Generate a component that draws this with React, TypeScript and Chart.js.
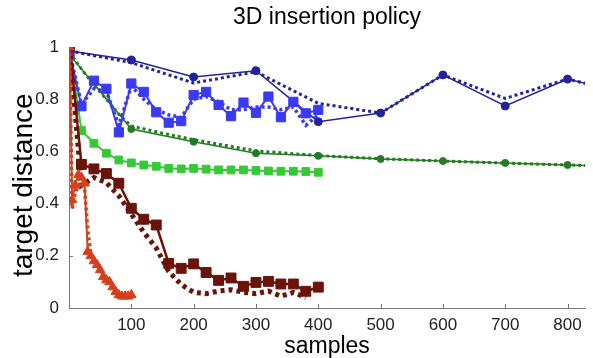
import { useEffect, useRef } from "react";
import { Chart, registerables } from "chart.js";

Chart.register(...registerables);

// Sample counts for each run family
const coarseSamples = [1, 100, 200, 300, 400, 500, 600, 700, 800, 900];
const fitSamples = [1, 20, 40, 60, 80, 100, 150, 200, 300, 400, 500, 600, 700, 800, 900];
const fineSamples = [1, 20, 40, 60, 80, 100, 120, 140, 160, 180, 200, 220, 240, 260, 280, 300, 320, 340, 360, 380, 400];
const maroonFitSamples = [1, 20, 40, 60, 80, 100, 120, 140, 160, 180, 200, 220, 240, 260, 280, 300, 320, 340, 360, 380];
const triangleSamples = [1, 5, 10, 15, 20, 25, 30, 35, 40, 45, 50, 55, 60, 65, 70, 75, 80, 85, 90, 95, 100];

// Target distance per policy
const navySolid = [0.985, 0.95, 0.885, 0.909, 0.714, 0.747, 0.893, 0.774, 0.877, 0.82];
const navyDotted = [0.985, 0.94, 0.862, 0.905, 0.784, 0.747, 0.893, 0.803, 0.877, 0.82];
const greenSolid = [0.97, 0.686, 0.637, 0.593, 0.583, 0.571, 0.563, 0.556, 0.548, 0.54];
const greenDotted = [0.98, 0.915, 0.855, 0.8, 0.742, 0.697, 0.67, 0.645, 0.602, 0.584, 0.572, 0.563, 0.555, 0.548, 0.54];
const brightGreen = [0.99, 0.68, 0.631, 0.593, 0.567, 0.556, 0.548, 0.543, 0.535, 0.533, 0.535, 0.532, 0.529, 0.529, 0.529, 0.527, 0.525, 0.524, 0.524, 0.523, 0.52];
const blueSolid = [0.98, 0.773, 0.871, 0.84, 0.673, 0.86, 0.828, 0.75, 0.71, 0.716, 0.816, 0.828, 0.778, 0.735, 0.787, 0.748, 0.81, 0.731, 0.79, 0.746, 0.759];
const blueDotted = [0.98, 0.78, 0.84, 0.83, 0.7, 0.85, 0.8, 0.76, 0.74, 0.73, 0.8, 0.81, 0.79, 0.76, 0.76, 0.77, 0.77, 0.76, 0.77, 0.7, 0.74];
const maroonSolid = [1.0, 0.55, 0.533, 0.515, 0.478, 0.382, 0.34, 0.318, 0.171, 0.152, 0.169, 0.136, 0.106, 0.115, 0.083, 0.098, 0.102, 0.092, 0.092, 0.064, 0.08];
const maroonDotted = [1.0, 0.47, 0.5, 0.48, 0.43, 0.36, 0.29, 0.23, 0.14, 0.09, 0.06, 0.055, 0.065, 0.07, 0.06, 0.055, 0.065, 0.045, 0.06, 0.04];
const orangeSolid = [1.0, 0.414, 0.47, 0.51, 0.5, 0.478, 0.216, 0.2, 0.18, 0.165, 0.146, 0.12, 0.107, 0.1, 0.08, 0.062, 0.05, 0.045, 0.045, 0.045, 0.05];
const orangeDotted = [1.0, 0.38, 0.44, 0.47, 0.48, 0.46, 0.3, 0.21, 0.19, 0.17, 0.15, 0.125, 0.11, 0.09, 0.075, 0.06, 0.05, 0.045, 0.045, 0.048, 0.05];

// Axis ticks
const xTicks = [100, 200, 300, 400, 500, 600, 700, 800];
const yTicks = [0, 0.2, 0.4, 0.6, 0.8, 1];

const FONT = "'Liberation Sans', Arial, Helvetica, sans-serif";

const NAVY = "#22229a";
const BLUE = "#3a3af2";
const GREEN = "#237b23";
const LIME = "#36c936";
const MAROON = "#6a1309";
const ORANGE = "#d4401c";

const pts = (xs: number[], ys: number[]) => xs.map((x, i) => ({ x, y: ys[i] }));

function solidLine(xs: number[], ys: number[], color: string, width: number, marker: string | false, radius: number, order: number) {
  return {
    data: pts(xs, ys),
    borderColor: color,
    backgroundColor: color,
    borderWidth: width,
    pointStyle: marker || "circle",
    pointRadius: marker ? radius : 0,
    pointBorderWidth: 1,
    pointBorderColor: color,
    pointBackgroundColor: color,
    tension: 0,
    fill: false,
    order,
  };
}

function dottedLine(xs: number[], ys: number[], color: string, width: number, dash: number[], order: number) {
  return {
    data: pts(xs, ys),
    borderColor: color,
    backgroundColor: color,
    borderWidth: width,
    borderDash: dash,
    borderCapStyle: "butt",
    pointRadius: 0,
    tension: 0,
    fill: false,
    order,
  };
}

// Small tick marks that point into the plot area
const innerTicks = {
  id: "innerTicks",
  beforeDatasetsDraw(chart: any) {
    const { ctx, chartArea, scales } = chart;
    const x = scales.x;
    const y = scales.y;
    ctx.save();
    ctx.strokeStyle = "#777";
    ctx.lineWidth = 1;
    ctx.beginPath();
    xTicks.forEach((v) => {
      const px = Math.round(x.getPixelForValue(v)) + 0.5;
      ctx.moveTo(px, chartArea.bottom);
      ctx.lineTo(px, chartArea.bottom - 4);
    });
    yTicks.slice(1, -1).forEach((v) => {
      const py = Math.round(y.getPixelForValue(v)) + 0.5;
      ctx.moveTo(chartArea.left, py);
      ctx.lineTo(chartArea.left + 4, py);
    });
    ctx.stroke();
    ctx.restore();
  },
};

export default function App() {
  const canvasRef = useRef<HTMLCanvasElement | null>(null);

  useEffect(() => {
    const canvas = canvasRef.current;
    if (!canvas) return;
    const chart = new Chart(canvas, {
      type: "line",
      data: {
        datasets: [
          solidLine(triangleSamples, orangeSolid, ORANGE, 2, "triangle", 5.5, 0),
          dottedLine(triangleSamples, orangeDotted, ORANGE, 3.5, [3, 3], 1),
          solidLine(fineSamples, maroonSolid, MAROON, 2.5, "rect", 7, 2),
          dottedLine(maroonFitSamples, maroonDotted, MAROON, 5, [4, 4], 3),
          solidLine(fineSamples, blueSolid, BLUE, 2, "rect", 6.5, 4),
          dottedLine(fineSamples, blueDotted, BLUE, 3.5, [3, 3], 5),
          solidLine(coarseSamples, navySolid, NAVY, 1.5, "circle", 4, 6),
          dottedLine(coarseSamples, navyDotted, NAVY, 3, [3, 3], 7),
          solidLine(fineSamples, brightGreen, LIME, 2, "rect", 5.5, 8),
          solidLine(coarseSamples, greenSolid, GREEN, 1.5, "circle", 3.5, 9),
          dottedLine(fitSamples, greenDotted, GREEN, 3, [3, 3], 10),
        ] as any,
      },
      options: {
        responsive: false,
        animation: false,
        layout: { padding: 0 },
        plugins: {
          legend: { display: false },
          tooltip: { enabled: false },
          title: {
            display: true,
            text: "3D insertion policy",
            fullSize: false,
            color: "#000",
            font: { family: FONT, size: 23, weight: "normal", lineHeight: 1.2 },
            padding: { top: 3.5, bottom: 15.9 },
          },
        },
        scales: {
          x: {
            type: "linear",
            min: 0,
            max: 828,
            afterBuildTicks: (s: any) => {
              s.ticks = xTicks.map((value) => ({ value }));
            },
            afterFit: (s: any) => {
              s.height = 50;
            },
            grid: { display: false, drawTicks: false },
            border: { display: true, color: "#7a7a7a", width: 1 },
            ticks: {
              color: "#222",
              font: { family: FONT, size: 17 },
              padding: 7,
              maxRotation: 0,
              autoSkip: false,
            },
            title: {
              display: true,
              text: "samples",
              color: "#000",
              font: { family: FONT, size: 23, lineHeight: 1 },
              padding: { top: 0, bottom: 0 },
            },
          },
          y: {
            type: "linear",
            min: 0,
            max: 1,
            afterBuildTicks: (s: any) => {
              s.ticks = yTicks.map((value) => ({ value }));
            },
            afterFit: (s: any) => {
              s.width = 69;
            },
            grid: { display: false, drawTicks: false },
            border: { display: true, color: "#7a7a7a", width: 1 },
            ticks: {
              color: "#222",
              font: { family: FONT, size: 17 },
              padding: 10,
              callback: (v: any) => String(+Number(v).toFixed(2)),
            },
            title: {
              display: true,
              // two trailing no-break spaces nudge the centred label a little lower
              text: "target distance\u00a0\u00a0",
              color: "#000",
              font: { family: FONT, size: 28, lineHeight: 1 },
              padding: { top: 10, bottom: 0 },
            },
          },
        },
      } as any,
      plugins: [innerTicks],
    });
    return () => chart.destroy();
  }, []);

  return (
    <div style={{ position: "absolute", left: 0, top: 0, width: 593, height: 358, background: "#fff" }}>
      <canvas ref={canvasRef} width={593} height={358} style={{ display: "block" }} />
    </div>
  );
}
